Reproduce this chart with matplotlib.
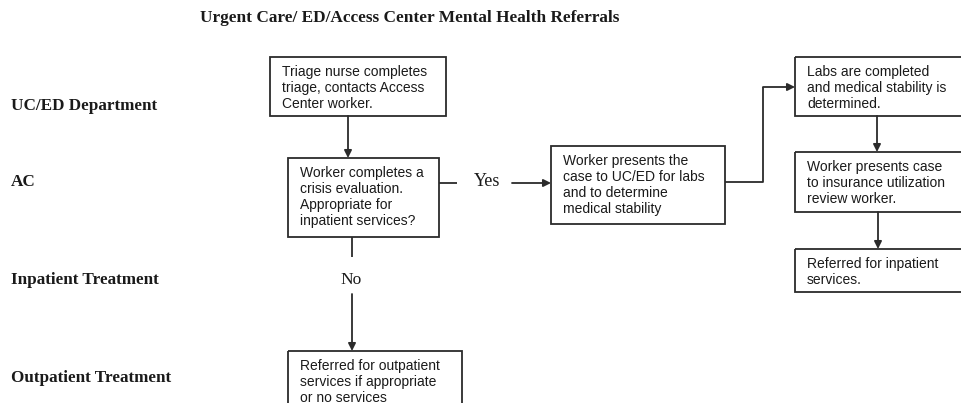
import matplotlib
matplotlib.use('Agg')
import matplotlib.pyplot as plt
from matplotlib.patches import Rectangle

# Text content of the flowchart
title = 'Urgent Care/ ED/Access Center Mental Health Referrals'
lane_labels = ['UC/ED Department', 'AC', 'Inpatient Treatment', 'Outpatient Treatment']
box_texts = [
    'Triage nurse completes\ntriage, contacts Access\nCenter worker.',
    'Worker completes a\ncrisis evaluation.\nAppropriate for\ninpatient services?',
    'Worker presents the\ncase to UC/ED for labs\nand to determine\nmedical stability',
    'Labs are completed\nand medical stability is\ndetermined.',
    'Worker presents case\nto insurance utilization\nreview worker.',
    'Referred for inpatient\nservices.',
    'Referred for outpatient\nservices if appropriate\nor no services',
]
yes_label = 'Yes'
no_label = 'No'

# Layout in pixel units (x0, y0, x1, y1), y grows downwards
W, H = 961, 403
lane_y = [106, 182, 280, 378]
boxes = [
    (270, 57, 446, 116),
    (288, 158, 439, 237),
    (551, 146, 725, 224),
    (795, 57, 975, 116),
    (795, 152, 975, 212),
    (795, 249, 975, 292),
    (288, 351, 462, 420),
]

line_c = '#2b2b2b'
text_c = '#1a1a1a'

fig = plt.figure(figsize=(W / 100, H / 100), dpi=100)
ax = fig.add_axes([0, 0, 1, 1])
ax.set_xlim(0, W)
ax.set_ylim(H, 0)
ax.axis('off')

ax.text(410, 18, title, ha='center', va='center', fontsize=12.4,
        fontweight='bold', family='Liberation Serif', color=text_c)

for y, lab in zip(lane_y, lane_labels):
    ax.text(11, y, lab, ha='left', va='center', fontsize=12.3,
            fontweight='bold', family='Liberation Serif', color=text_c)

for (x0, y0, x1, y1), txt in zip(boxes, box_texts):
    ax.add_patch(Rectangle((x0, y0), x1 - x0, y1 - y0, fill=False,
                           edgecolor=line_c, lw=1.3))
    ax.text(x0 + 12, y0 + 8, txt, ha='left', va='top', fontsize=10,
            family='Liberation Sans', color=text_c, linespacing=1.17)


def seg(xs, ys):
    ax.plot(xs, ys, color=line_c, lw=1.3, solid_capstyle='butt')


def arrow(x0, y0, x1, y1):
    ax.annotate('', xy=(x1, y1), xytext=(x0, y0),
                arrowprops=dict(arrowstyle='-|>', color=line_c, lw=1.3,
                                mutation_scale=11, shrinkA=0, shrinkB=0))


# connectors
arrow(348, 116, 348, 158)
seg([439, 457], [183, 183])
ax.text(487, 182, yes_label, ha='center', va='center', fontsize=13,
        family='Liberation Serif', color=text_c)
arrow(512, 183, 551, 183)
seg([725, 763, 763], [182, 182, 87])
arrow(763, 87, 795, 87)
arrow(877, 116, 877, 152)
arrow(878, 212, 878, 249)
seg([352, 352], [237, 257])
ax.text(351, 280, no_label, ha='center', va='center', fontsize=12.5,
        family='Liberation Serif', color=text_c)
arrow(352, 294, 352, 351)

fig.savefig('out.png', dpi=100, facecolor='white')
